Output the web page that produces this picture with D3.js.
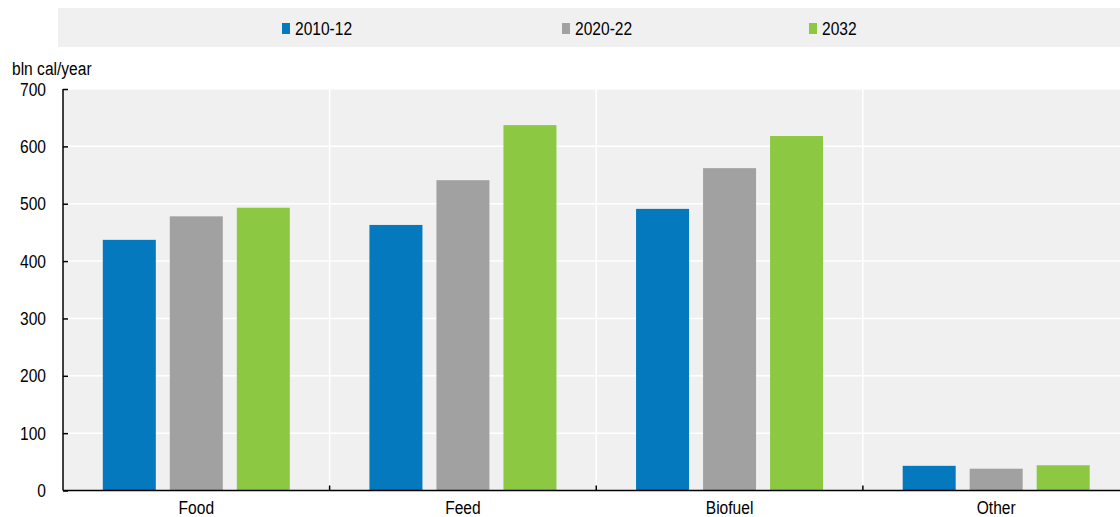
<!DOCTYPE html>
<html>
<head>
<meta charset="utf-8">
<script src="https://cdn.jsdelivr.net/npm/d3@7"></script>
<style>
  html, body { margin: 0; padding: 0; background: #fff; }
  svg { display: block; }
  text { font-family: "Liberation Sans", Arial, sans-serif; fill: #000; }
</style>
</head>
<body>
<svg id="chart" width="1120" height="517"></svg>
<script>
const categories = ["Food", "Feed", "Biofuel", "Other"];
const seriesNames = ["2010-12", "2020-22", "2032"];
const series2010_12 = [437, 463, 491, 43];
const series2020_22 = [478, 541, 562, 38];
const series2032 = [493, 637, 618, 44];
const colors = ["#0479be", "#a1a1a1", "#8cc842"];
const yTicks = [0, 100, 200, 300, 400, 500, 600, 700];
const yLabel = "bln cal/year";

(function () {
const seriesValues = [series2010_12, series2020_22, series2032];
const FONT = '"Liberation Sans", Arial, sans-serif';
const SX = 0.82;   // horizontal condensing to mimic a narrow font
const FS = 19;

const svg = d3.select("#chart");
const W = 1120;
const mLeft = 63, mTop = 89, mBottom = 490.5, mRight = 1129.5;

const x = d3.scaleBand().domain(categories).range([mLeft, mRight]).paddingInner(0).paddingOuter(0);
const y = d3.scaleLinear().domain([0, 700]).range([mBottom, mTop]);
const inner = d3.scaleBand().domain(seriesNames).range([0, x.bandwidth()]).paddingInner(0.209).paddingOuter(0.594);

function narrowText(sel, xPos, yPos) {
  sel.attr("x", xPos / SX).attr("y", yPos).attr("transform", `scale(${SX},1)`)
     .attr("font-size", FS).attr("font-family", FONT).attr("fill", "#000");
}

// legend band
svg.append("rect").attr("x", 58).attr("y", 8).attr("width", W - 58).attr("height", 39).attr("fill", "#f0f0f0");
const legendX = [282, 562, 809];
seriesNames.forEach((s, i) => {
  svg.append("rect").attr("x", legendX[i]).attr("y", 23).attr("width", 8).attr("height", 11).attr("fill", colors[i]);
  svg.append("text").text(s).call(narrowText, legendX[i] + 13, 35);
});

// plot background
svg.append("rect").attr("x", mLeft).attr("y", mTop).attr("width", W - mLeft).attr("height", mBottom - mTop).attr("fill", "#f0f0f0");

// horizontal gridlines
svg.append("g").selectAll("line").data(yTicks.slice(1)).join("line")
  .attr("x1", mLeft).attr("x2", W).attr("y1", d => y(d)).attr("y2", d => y(d))
  .attr("stroke", "#fff").attr("stroke-width", 1.5);

// vertical separators
svg.append("g").selectAll("line").data(categories.slice(1)).join("line")
  .attr("x1", d => x(d)).attr("x2", d => x(d)).attr("y1", mTop).attr("y2", mBottom)
  .attr("stroke", "#fff").attr("stroke-width", 1.5);

// bars
seriesNames.forEach((s, i) => {
  svg.append("g").selectAll("rect").data(categories).join("rect")
    .attr("x", d => x(d) + inner(s))
    .attr("width", inner.bandwidth())
    .attr("y", (d, j) => y(seriesValues[i][j]))
    .attr("height", (d, j) => y(0) - y(seriesValues[i][j]))
    .attr("fill", colors[i]);
});

// y axis
const yAxis = d3.axisLeft(y).tickValues(yTicks).tickSize(-5).tickPadding(17).tickFormat(d3.format("d"));
const yg = svg.append("g").attr("transform", `translate(${mLeft},0)`).call(yAxis);
yg.select(".domain").attr("stroke", "#000").attr("stroke-width", 1.5).attr("d", `M0,${mTop}V${mBottom}`);
yg.selectAll(".tick line").attr("stroke", "#000").attr("stroke-width", 1.5);
yg.selectAll(".tick text").attr("x", -17 / SX).attr("transform", `scale(${SX},1)`)
  .attr("font-size", FS).attr("font-family", FONT).attr("fill", "#000");

// x axis
const xAxis = d3.axisBottom(x).tickSize(0).tickPadding(10);
const xg = svg.append("g").attr("transform", `translate(0,${mBottom})`).call(xAxis);
xg.select(".domain").attr("stroke", "#000").attr("stroke-width", 1.5).attr("d", `M${mLeft},0H${W}`);
xg.selectAll(".tick text").attr("transform", `scale(${SX},1)`)
  .attr("font-size", FS).attr("font-family", FONT).attr("fill", "#000");
xg.append("g").selectAll("line").data(categories.slice(1)).join("line")
  .attr("x1", d => x(d)).attr("x2", d => x(d)).attr("y1", 0).attr("y2", -5)
  .attr("stroke", "#000").attr("stroke-width", 1.5);

// y label
svg.append("text").text(yLabel).call(narrowText, 12, 75);
})();
</script>
</body>
</html>
